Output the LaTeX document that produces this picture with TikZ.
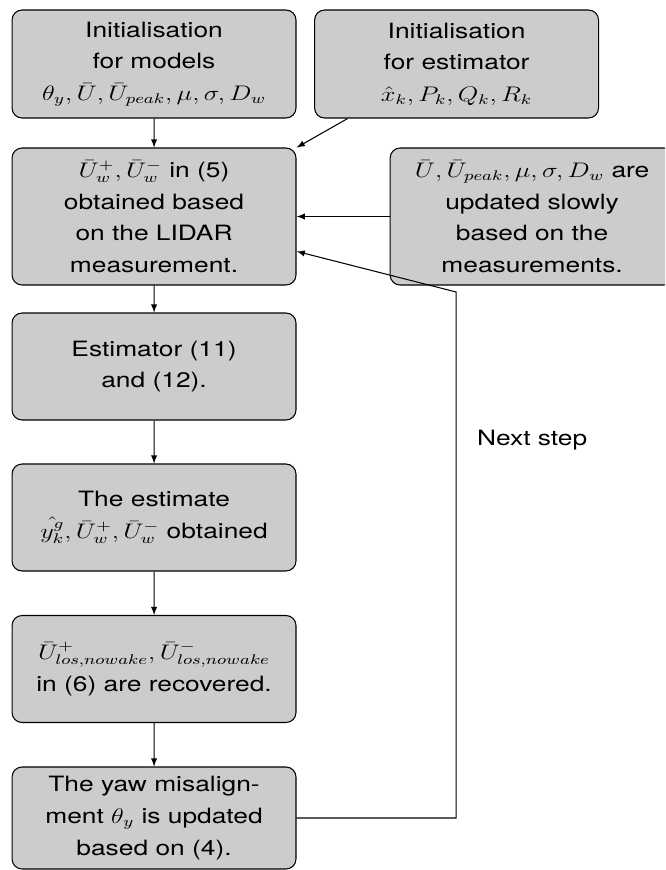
\documentclass[tikz,border=0pt]{standalone}
\usepackage{fontspec}
\setmainfont{TeX Gyre Heros}
\usepackage{tikz}

\begin{document}
\begin{tikzpicture}[x=0.016cm, y=-0.02cm, xscale=1.25, transform shape, >=latex, line width=0.6pt,
        box/.style={draw, fill=black!20, rounded corners=0.2cm, align=center, inner sep=0pt,
            minimum width=4.544cm, minimum height=2.14cm, font=\fontsize{12}{18}\selectfont},
        note/.style={font=\fontsize{12}{18}\selectfont}]
        \useasboundingbox (0,0) rectangle (665,870);
        \clip (0,0) rectangle (665,870);

        % Colonna sinistra
        \node[box, minimum height=2.16cm] (models) at (154,64) {Initialisation\\for models\\$\theta_y,\bar{U},\bar{U}_{peak},\mu,\sigma,D_w$};
        \node[box, minimum height=2.74cm] (lidar) at (154,216.5) {$\bar{U}_w^+,\bar{U}_w^-$ in (5)\\obtained based\\on the LIDAR\\measurement.};
        \node[box] (estimator) at (154,366.5) {Estimator (11)\\and (12).};
        \node[box] (estimate) at (154,517.5) {The estimate\\$\hat{y_k^g},\bar{U}_w^+,\bar{U}_w^-$ obtained};
        \node[box] (recover) at (154,669) {$\bar{U}_{los,nowake}^+,\bar{U}_{los,nowake}^-$\\in (6) are recovered.};
        \node[box, minimum height=2.04cm] (yaw) at (154,818) {The yaw misalign-\\ment $\theta_y$ is updated\\based on (4).};

        % Colonna destra
        \node[box, minimum height=2.16cm] (estinit) at (456.5,64) {Initialisation\\for estimator\\$\hat{x}_k,P_k,Q_k,R_k$};
        \node[box, minimum height=2.74cm] (slow) at (532,216.5) {$\bar{U},\bar{U}_{peak},\mu,\sigma,D_w$ are\\updated slowly\\based on the\\measurements.};
        \node[note] (next) at (532,440) {Next step};
        \coordinate (loop) at (456,292);

        % Collegamenti
        \draw[->] (models) -- (lidar);
        \draw[->] (estinit.212) -- (lidar.north east);
        \draw[->] (slow) -- (lidar);
        \draw[->] (lidar) -- (estimator);
        \draw[->] (estimator) -- (estimate);
        \draw[->] (estimate) -- (recover);
        \draw[->] (recover) -- (yaw);
        \draw[->] (yaw.east) -| (loop) -- (lidar.-17);
    \end{tikzpicture}
\end{document}
